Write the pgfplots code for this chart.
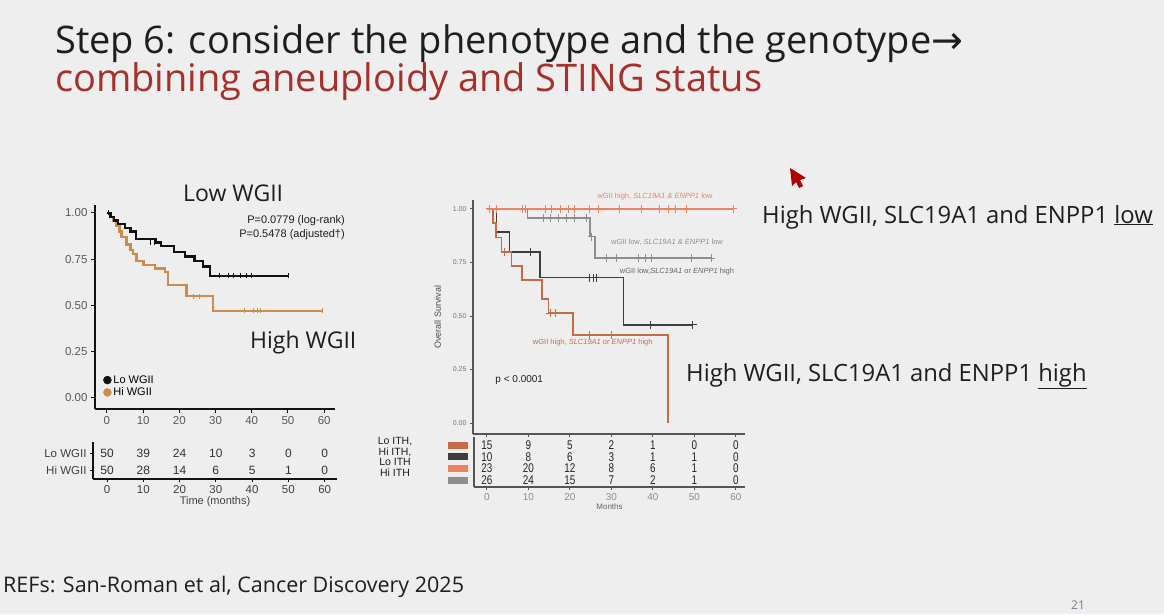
\documentclass[border=0pt]{standalone}
\usepackage{pgfplots}
\pgfplotsset{compat=1.18}
\usepackage{fontspec}
\setmainfont{Open Sans}
\newfontfamily\chartf{Liberation Sans}
\newfontfamily\symf{DejaVu Sans}
\definecolor{bg}{HTML}{EEEEEE}
\definecolor{titlered}{HTML}{A8302B}
\definecolor{loblk}{HTML}{111111}
\definecolor{hiorg}{HTML}{CF8A4C}
\definecolor{ctop}{HTML}{E9845D}
\definecolor{chh}{HTML}{C86A45}
\definecolor{cdk}{HTML}{3D3D3D}
\definecolor{cgr}{HTML}{8E8E8E}
\definecolor{axgr}{HTML}{555555}
\definecolor{pgnum}{HTML}{6A7F99}
\definecolor{txt}{HTML}{1E1E1E}
\newcommand\fs[1]{\fontsize{#1}{#1}\selectfont}
\newcommand\swatch[1]{\tikz\fill[#1] (0pt,0pt) rectangle (20pt,7pt);}

\begin{document}
\begin{tikzpicture}
\fill[bg] (0pt,0pt) rectangle (1164pt,-614pt);
\path[use as bounding box] (0pt,0pt) rectangle (1164pt,-614pt);

% titles
\node[anchor=base west, inner sep=0pt, font=\fs{38}, text=txt] at (55pt,-53pt) {Step 6: consider the phenotype and the genotype{\symf\fs{38}→}};
\node[anchor=base west, inner sep=0pt, font=\fs{38}, text=titlered] at (55pt,-91pt) {combining aneuploidy and STING status};
\node[anchor=base west, inner sep=0pt, font=\fs{21.5}, text=txt] at (3pt,-592pt) {REFs: San-Roman et al, Cancer Discovery 2025};
\node[anchor=base, inner sep=0pt, font=\fs{12}, text=pgnum] at (1078pt,-609pt) {21};

% right annotations
\node[anchor=base west, inner sep=0pt, font=\fs{23.8}, text=txt] at (762pt,-223pt) {High WGII, SLC19A1 and ENPP1 \underline{low}};
\node[anchor=base west, inner sep=0pt, font=\fs{23.8}, text=txt] at (686pt,-381pt) {High WGII, SLC19A1 and ENPP1 \underline{high}};

% left annotations
\node[anchor=base west, inner sep=0pt, font=\fs{23}, text=txt] at (183pt,-201pt) {Low WGII};
\node[anchor=base west, inner sep=0pt, font=\fs{23}, text=txt] at (250pt,-348pt) {High WGII};
\node[anchor=base east, inner sep=0pt, font=\chartf\fs{11}, text=txt] at (345pt,-223pt) {P=0.0779 (log-rank)};
\node[anchor=base east, inner sep=0pt, font=\chartf\fs{11}, text=txt] at (345pt,-237pt) {P=0.5478 (adjusted\textdagger)};

% mouse pointer
\fill[red!70!black] (790pt,-168pt) -- (806pt,-178pt) -- (800pt,-180pt) -- (803pt,-186pt) -- (799pt,-188pt) -- (796pt,-182pt) -- (792pt,-186pt) -- cycle;

% ITH labels
\node[align=center, inner sep=0pt, font=\chartf\fontsize{10.5}{10.5}\selectfont, text=txt] at (395pt,-457pt) {Lo ITH,\\Hi ITH,\\Lo ITH\\Hi ITH};

% ---------- left KM ----------
\begin{axis}[
 at={(95pt,-409pt)}, anchor=south west, scale only axis, width=240pt, height=204pt,
 xmin=-3.3, xmax=63, ymin=-0.06, ymax=1.043,
 axis x line*=bottom, axis y line*=left,
 axis line style={loblk, line width=1.6pt},
 xtick={0,10,...,60}, ytick={0,0.25,0.5,0.75,1}, yticklabels={0.00,0.25,0.50,0.75,1.00},
 tick style={loblk, line width=1pt}, tick align=outside, major tick length=4pt,
 ticklabel style={font=\chartf\fs{11.5}, text=black!65},
 /pgf/number format/assume math mode=true,
 clip=false,
 legend style={at={(0.03,0.18)}, anchor=north west, draw=none, fill=none, font=\chartf\fs{11}, row sep=-1pt, inner sep=1pt},
 legend cell align=left,
]
\addplot[const plot, hiorg, line width=2.3pt, forget plot] coordinates {
(0,1)(1,0.98)(1.7,0.96)(2.5,0.93)(3.5,0.90)(4,0.87)(5.4,0.83)(6.5,0.80)(7.2,0.78)(8.2,0.74)(10.1,0.72)(13.3,0.70)(16.1,0.68)(16.9,0.61)(22,0.55)(29.2,0.47)(59.6,0.47)};
\addplot[const plot, loblk, line width=2.3pt, forget plot] coordinates {
(0,1)(1,0.98)(2,0.96)(3,0.94)(5,0.92)(6.5,0.90)(8,0.86)(13.5,0.84)(15,0.82)(18.5,0.79)(21.5,0.765)(24.2,0.74)(26.5,0.71)(28.5,0.66)(50,0.66)};
\addplot[only marks, mark=|, mark size=2.5pt, loblk, line width=0.8pt, forget plot] coordinates {
(0.5,1)(12,0.84)(13,0.84)(31,0.66)(33.5,0.66)(35,0.66)(37,0.66)(38.5,0.66)(40,0.66)(50,0.66)};
\addplot[only marks, mark=|, mark size=2.5pt, hiorg, line width=0.8pt, forget plot] coordinates {
(24,0.55)(25.5,0.55)(38,0.47)(40.5,0.47)(41.5,0.47)(42.5,0.47)(59.6,0.47)};
\addlegendimage{only marks, mark=*, mark size=4pt, loblk}
\addlegendentry{Lo WGII}
\addlegendimage{only marks, mark=*, mark size=4pt, hiorg}
\addlegendentry{Hi WGII}
\end{axis}

% ---------- left risk table ----------
\begin{axis}[
 at={(93pt,-479pt)}, anchor=south west, scale only axis, width=244pt, height=37pt,
 xmin=-3.86, xmax=63.4, ymin=0.47, ymax=2.65,
 axis x line*=bottom, axis y line*=left, axis line style={loblk, line width=1.6pt},
 xtick={0,10,...,60}, ytick={1,2}, yticklabels={Hi WGII, Lo WGII},
 tick style={loblk, line width=0.8pt}, tick align=outside, major tick length=3pt,
 ticklabel style={font=\chartf\fs{11.5}, text=black!75}, /pgf/number format/assume math mode=true,
 xlabel={Time (months)}, xlabel style={font=\chartf\fs{11}, text=black!75, yshift=4pt},
 nodes near coords, point meta=explicit symbolic,
 every node near coord/.append style={anchor=center, font=\chartf\fs{12}, text=black!80},
 clip=false,
]
\addplot[only marks, mark=*, mark size=0.01pt, mark options={draw=none, fill=none}] table[meta=n] {
x y n
0 2 50
10 2 39
20 2 24
30 2 10
40 2 3
50 2 0
60 2 0
0 1 50
10 1 28
20 1 14
30 1 6
40 1 5
50 1 1
60 1 0
};
\end{axis}

% ---------- right KM ----------
\begin{axis}[
 at={(473pt,-434pt)}, anchor=south west, scale only axis, width=272pt, height=234pt,
 xmin=-3.37, xmax=62.2, ymin=-0.051, ymax=1.042,
 axis x line*=bottom, axis y line*=left, axis line style={axgr, line width=1.8pt},
 xtick={0,10,...,60}, xticklabels={},
 ytick={0,0.25,0.5,0.75,1}, yticklabels={0.00,0.25,0.50,0.75,1.00},
 tick style={axgr, line width=1pt}, tick align=outside, major tick length=3pt,
 ticklabel style={font=\chartf\fs{7}, text=black!55},
 ylabel={Overall Survival},
 ylabel style={font=\chartf\fs{9}, text=black!70, at={(axis description cs:-0.13,0.5)}, anchor=center},
 clip=false,
]
% wGII low, low/low (gray)
\addplot[const plot, cgr, line width=1.7pt] coordinates {(0,1)(9.8,0.957)(24.8,0.871)(26,0.771)(54.3,0.771)};
\addplot[only marks, mark=+, mark size=4pt, cgr, line width=1pt] coordinates {
(13.6,0.957)(15.2,0.957)(17.2,0.957)(19.2,0.957)(21.2,0.957)(24,0.957)(25.3,0.871)(28.8,0.771)(31.3,0.771)(36.5,0.771)(38.1,0.771)(39.7,0.771)(49.3,0.771)(54.1,0.771)};
% wGII low, high (dark)
\addplot[const plot, cdk, line width=1.7pt] coordinates {(0,1)(2.3,0.894)(5.4,0.80)(12.8,0.68)(32.9,0.459)(49.6,0.459)};
\addplot[only marks, mark=+, mark size=4pt, cdk, line width=1pt] coordinates {
(10.4,0.80)(24.8,0.68)(25.6,0.68)(26.4,0.68)(39.3,0.459)(49.6,0.459)};
% wGII high, high (dark orange)
\addplot[const plot, chh, line width=1.7pt] coordinates {(0,1)(1.4,0.933)(2.2,0.867)(3.5,0.80)(5.9,0.733)(8.4,0.667)(13.2,0.58)(14.8,0.514)(20.8,0.412)(43.7,0)};
\addplot[only marks, mark=+, mark size=4pt, chh, line width=1pt] coordinates {
(4.3,0.80)(15.2,0.514)(16.4,0.514)(24.8,0.412)(30,0.412)};
% wGII high, low/low (orange)
\addplot[const plot, ctop, line width=1.7pt] coordinates {(0,1)(59.4,1)};
\addplot[only marks, mark=+, mark size=4pt, ctop, line width=1pt] coordinates {
(0.7,1)(2.3,1)(8.6,1)(9.4,1)(14.2,1)(15.6,1)(17.8,1)(19.6,1)(21.2,1)(24.8,1)(26.8,1)(32,1)(37.3,1)(41.7,1)(43.7,1)(45.4,1)(48.2,1)(59.4,1)};
\node[font=\chartf\fs{7.5}, text=ctop] at (axis cs:40.5,1.056) {wGII high, \textit{SLC19A1 \& ENPP1} low};
\node[font=\chartf\fs{7.5}, text=cgr] at (axis cs:43.4,0.846) {wGII low, \textit{SLC19A1 \& ENPP1} low};
\node[font=\chartf\fs{7.5}, text=cdk!80] at (axis cs:45.8,0.706) {wGII low,\textit{SLC19A1} or \textit{ENPP1} high};
\node[font=\chartf\fs{7.5}, text=chh] at (axis cs:25.5,0.374) {wGII high, \textit{SLC19A1} or \textit{ENPP1} high};
\node[anchor=west, font=\chartf\fs{10}, text=txt] at (axis cs:1.2,0.2) {p < 0.0001};
\end{axis}

% ---------- right risk table ----------
\begin{axis}[
 at={(474pt,-487pt)}, anchor=south west, scale only axis, width=271pt, height=50pt,
 xmin=-3.13, xmax=62.2, ymin=0.4, ymax=4.69,
 axis x line*=bottom, axis y line*=left, axis line style={axgr, line width=1.8pt},
 xtick={0,10,...,60}, ytick={1,2,3,4},
 yticklabels={\swatch{cgr},\swatch{ctop},\swatch{cdk},\swatch{chh}},
 ytick style={draw=none}, xtick style={axgr, line width=1pt},
 tick align=outside, major tick length=3pt,
 yticklabel style={inner sep=0pt, anchor=east, xshift=-3pt},
 xticklabel style={font=\chartf\fs{10}, text=black!45},
 /pgf/number format/assume math mode=true,
 xlabel={Months}, xlabel style={font=\chartf\fs{8}, text=black!60, yshift=4pt},
 nodes near coords, point meta=explicit symbolic,
 every node near coord/.append style={anchor=center, font=\chartf\fontsize{11}{11}\selectfont\addfontfeature{FakeStretch=0.9}, text=black!85, inner sep=0pt, yscale=1.15},
 clip=false,
]
\addplot[only marks, mark=*, mark size=0.01pt, mark options={draw=none, fill=none}] table[meta=n] {
x y n
0 4 15
10 4 9
20 4 5
30 4 2
40 4 1
50 4 0
60 4 0
0 3 10
10 3 8
20 3 6
30 3 3
40 3 1
50 3 1
60 3 0
0 2 23
10 2 20
20 2 12
30 2 8
40 2 6
50 2 1
60 2 0
0 1 26
10 1 24
20 1 15
30 1 7
40 1 2
50 1 1
60 1 0
};
\end{axis}
\end{tikzpicture}
\end{document}
